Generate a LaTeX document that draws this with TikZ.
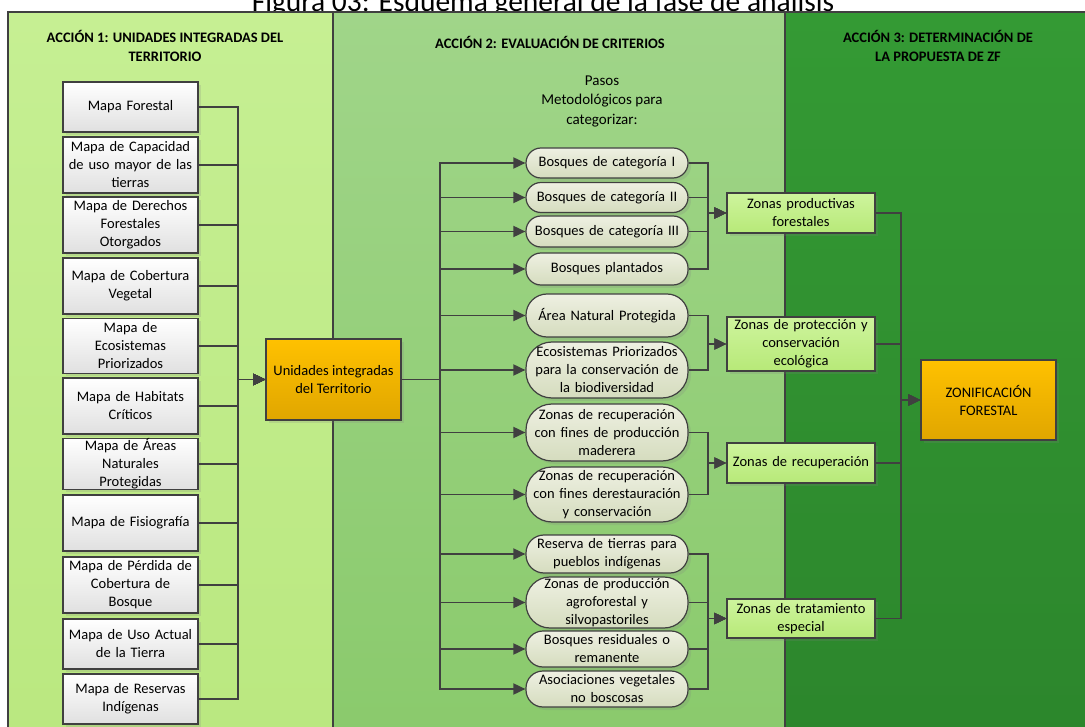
\documentclass[tikz,border=0pt]{standalone}
\usepackage{fontspec}
\setmainfont{Carlito}
\usetikzlibrary{arrows.meta, positioning, shadows}

\definecolor{linegray}{RGB}{64,64,64}
\definecolor{panAtop}{RGB}{198,239,147}
\definecolor{panAbot}{RGB}{186,232,128}
\definecolor{panBtop}{RGB}{160,213,137}
\definecolor{panBbot}{RGB}{138,202,108}
\definecolor{panCtop}{RGB}{52,154,52}
\definecolor{panCbot}{RGB}{44,134,44}
\definecolor{mapbot}{RGB}{224,224,224}
\definecolor{pasotop}{RGB}{238,240,226}
\definecolor{pasobot}{RGB}{213,220,190}
\definecolor{zonatop}{RGB}{206,244,157}
\definecolor{zonabot}{RGB}{183,233,120}
\definecolor{orangetop}{RGB}{255,193,0}
\definecolor{orangebot}{RGB}{224,166,0}

\begin{document}
\begin{tikzpicture}[
            x = 1pt, y = -1pt, % one unit = one pixel, y downwards
            > = {Triangle[length=12pt, width=11pt]}, % arrow head style
            font = \fontsize{14.5}{18}\selectfont,
            link/.style = {draw = linegray, line width = 1.8pt}
        ]

        \tikzstyle{mapa}=[
            draw = linegray,
            line width = 1.2pt,
            top color = white,
            bottom color = mapbot,
            text width = 131pt,
            minimum width = 135pt,
            inner xsep = 2pt,
            inner ysep = 0pt,
            align = center,
            drop shadow = {shadow xshift=3pt, shadow yshift=-3pt, opacity=0.2}
        ]
        \tikzstyle{paso}=[
            draw = linegray,
            line width = 1.2pt,
            top color = pasotop,
            bottom color = pasobot,
            rounded corners = 15pt,
            text width = 156pt,
            minimum width = 162pt,
            inner xsep = 3pt,
            inner ysep = 0pt,
            align = center,
            drop shadow = {shadow xshift=3pt, shadow yshift=-3pt, opacity=0.2}
        ]
        \tikzstyle{zona}=[
            draw = linegray,
            line width = 1.2pt,
            top color = zonatop,
            bottom color = zonabot,
            text width = 144pt,
            minimum width = 148pt,
            inner xsep = 2pt,
            inner ysep = 0pt,
            align = center,
            drop shadow = {shadow xshift=3pt, shadow yshift=-3pt, opacity=0.2}
        ]
        \tikzstyle{clave}=[
            draw = linegray,
            line width = 1.2pt,
            top color = orangetop,
            bottom color = orangebot,
            minimum width = 135pt,
            align = center,
            drop shadow = {shadow xshift=3pt, shadow yshift=-3pt, opacity=0.2}
        ]
        \tikzstyle{head}=[
            font = \bfseries\fontsize{14.5}{19.5}\selectfont,
            align = center
        ]

        \useasboundingbox (0,0) rectangle (1085,727);
        \fill[white] (0,0) rectangle (1085,727);

        % title, cut by the top edge
        \node[anchor=base, font=\fontsize{29.5}{32}\selectfont] (title) at (543,12) {Figura 03: Esquema general de la fase de análisis};

        % the three actions
        \shade[top color=panAtop, bottom color=panAbot] (8,12) rectangle (333,740);
        \shade[top color=panBtop, bottom color=panBbot] (333,12) rectangle (785,740);
        \shade[top color=panCtop, bottom color=panCbot] (785,12) rectangle (1090,740);
        \draw[linegray, line width=1.5pt] (8,740) -- (8,12) -- (1090,12);
        \draw[linegray, line width=1.5pt] (333,12) -- (333,740);
        \draw[linegray, line width=1.5pt] (785,12) -- (785,740);

        \node[head] (h1) at (165,46) {ACCIÓN 1: UNIDADES INTEGRADAS DEL\\TERRITORIO};
        \node[head] (h2) at (550,42) {ACCIÓN 2: EVALUACIÓN DE CRITERIOS};
        \node[head] (h3) at (938,46) {ACCIÓN 3: DETERMINACIÓN DE\\LA PROPUESTA DE ZF};
        \node[align=center, font=\fontsize{15}{19.5}\selectfont] (pasos) at (602,101) {Pasos\\Metodológicos para\\categorizar:};

        % maps
        \node[mapa, minimum height=50pt] (m1) at (130.5,107) {Mapa Forestal};
        \node[mapa, minimum height=56pt] (m2) at (130.5,165) {Mapa de Capacidad\\de uso mayor de las\\tierras};
        \node[mapa, minimum height=56pt] (m3) at (130.5,225) {Mapa de Derechos\\Forestales\\Otorgados};
        \node[mapa, minimum height=56pt] (m4) at (130.5,286) {Mapa de Cobertura\\Vegetal};
        \node[mapa, minimum height=55pt] (m5) at (130.5,346) {Mapa de\\Ecosistemas\\Priorizados};
        \node[mapa, minimum height=56pt] (m6) at (130.5,406) {Mapa de Habitats\\Críticos};
        \node[mapa, minimum height=50pt] (m7) at (130.5,464) {Mapa de Áreas\\Naturales\\Protegidas};
        \node[mapa, minimum height=56pt] (m8) at (130.5,523) {Mapa de Fisiografía};
        \node[mapa, minimum height=56pt] (m9) at (130.5,585) {Mapa de Pérdida de\\Cobertura de\\Bosque};
        \node[mapa, minimum height=50pt] (m10) at (130.5,644) {Mapa de Uso Actual\\de la Tierra};
        \node[mapa, minimum height=50pt] (m11) at (130.5,699) {Mapa de Reservas\\Indígenas};

        \node[clave, minimum height=81pt] (uni) at (333.5,379.5) {Unidades integradas\\del Territorio};

        % methodological steps
        \node[paso, minimum height=30pt] (c1) at (607,163) {Bosques de categoría I};
        \node[paso, minimum height=30pt] (c2) at (607,197.5) {Bosques de categoría II};
        \node[paso, minimum height=31pt] (c3) at (607,231.5) {Bosques de categoría III};
        \node[paso, minimum height=32pt] (c4) at (607,269) {Bosques plantados};
        \node[paso, minimum height=43pt, rounded corners=21pt] (c5) at (607,315.5) {Área Natural Protegida};
        \node[paso, minimum height=56pt, rounded corners=26pt] (c6) at (607,370) {Ecosistemas Priorizados\\para la conservación de\\la biodiversidad};
        \node[paso, minimum height=57pt, rounded corners=26pt] (c7) at (607,432.5) {Zonas de recuperación\\con fines de producción\\maderera};
        \node[paso, minimum height=55pt, rounded corners=26pt] (c8) at (607,494.5) {Zonas de recuperación\\con fines derestauración\\y conservación};
        \node[paso, minimum height=38pt, rounded corners=18pt] (c9) at (607,554) {Reserva de tierras para\\pueblos indígenas};
        \node[paso, minimum height=51pt, rounded corners=24pt] (c10) at (607,602.5) {Zonas de producción\\agroforestal y\\silvopastoriles};
        \node[paso, minimum height=36pt, rounded corners=17pt] (c11) at (607,649) {Bosques residuales o\\remanente};
        \node[paso, minimum height=36pt, rounded corners=17pt] (c12) at (607,689) {Asociaciones vegetales\\no boscosas};

        % zones
        \node[zona, minimum height=40pt] (z1) at (801,213) {Zonas productivas\\forestales};
        \node[zona, minimum height=54pt] (z2) at (801,344) {Zonas de protección y\\conservación\\ecológica};
        \node[zona, minimum height=40pt] (z3) at (801,463) {Zonas de recuperación};
        \node[zona, minimum height=39pt] (z4) at (801,618.5) {Zonas de tratamiento\\especial};

        \node[clave, minimum height=80pt] (zf) at (988.5,400) {ZONIFICACIÓN\\FORESTAL};

        % connectors
        \coordinate (bus1) at (238,379.5);
        \coordinate (bus2) at (440,379.5);
        \coordinate (g1) at (708,213);
        \coordinate (g2) at (708,344);
        \coordinate (g3) at (708,463);
        \coordinate (g4) at (708,618.5);
        \coordinate (g5) at (901,400);

        \foreach \n in {m1,m2,m3,m4,m5,m6,m7,m8,m9,m10,m11}
            \draw[link, ->] (\n.east) -| (bus1) -- (uni.west);
        \foreach \n in {c1,c2,c3,c4,c5,c6,c7,c8,c9,c10,c11,c12}
            \draw[link, ->] (uni.east) -- (bus2) |- (\n.west);
        \foreach \n in {c1,c2,c3,c4}
            \draw[link, ->] (\n.east) -| (g1) -- (z1.west);
        \foreach \n in {c5,c6}
            \draw[link, ->] (\n.east) -| (g2) -- (z2.west);
        \foreach \n in {c7,c8}
            \draw[link, ->] (\n.east) -| (g3) -- (z3.west);
        \foreach \n in {c9,c10,c11,c12}
            \draw[link, ->] (\n.east) -| (g4) -- (z4.west);
        \foreach \n in {z1,z2,z3,z4}
            \draw[link, ->] (\n.east) -| (g5) -- (zf.west);

    \end{tikzpicture}
\end{document}
